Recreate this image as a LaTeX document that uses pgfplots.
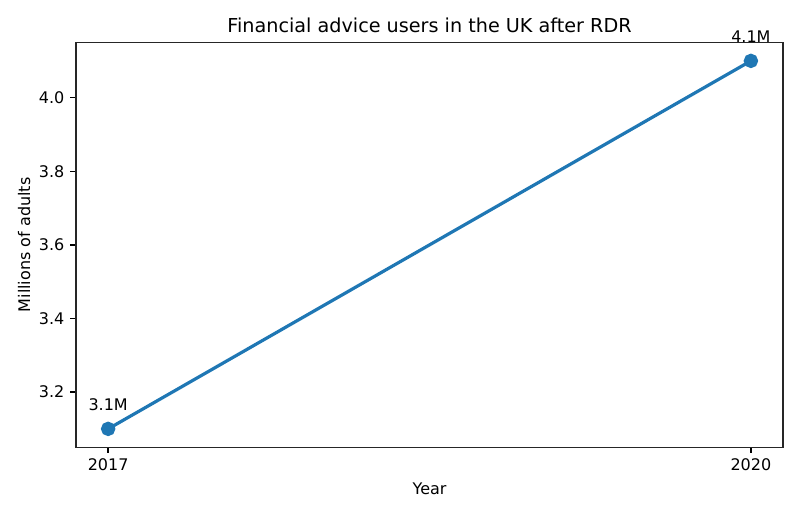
\documentclass[border=0pt]{standalone}
\usepackage{fontspec}
\setmainfont{DejaVu Sans}
\usepackage{pgfplots}
\pgfplotsset{compat=1.18}
\definecolor{mplblue}{RGB}{31,119,180}

\begin{document}
\begin{tikzpicture}
\path[use as bounding box] (0,0) rectangle (500pt,321.25pt);
\begin{axis}[
    at={(47.5pt,41.7pt)},
    anchor=south west,
    scale only axis,
    width=441.9pt,
    height=253pt,
    xmin=2016.85, xmax=2020.15,
    ymin=3.05, ymax=4.15,
    xtick={2017,2020},
    xticklabels={2017,2020},
    ytick={3.2,3.4,3.6,3.8,4.0},
    yticklabel style={/pgf/number format/fixed, /pgf/number format/fixed zerofill, /pgf/number format/precision=1},
    /pgf/number format/assume math mode=true,
    tick label style={font=\fontsize{10}{12}\selectfont, inner sep=0pt},
    xticklabel style={anchor=base, yshift=-11.3pt},
    yticklabel style={anchor=east, xshift=-3.6pt},
    xtick pos=bottom, ytick pos=left,
    tick align=outside,
    major tick length=3.5pt,
    every tick/.style={black, line width=0.8pt},
    axis line style={line width=0.8pt, black!85},
    title={Financial advice users in the UK after RDR},
    title style={at={(axis description cs:0.5,1)}, anchor=base, font=\fontsize{12}{14.4}\selectfont, inner sep=0pt},
    xlabel={Year},
    xlabel style={at={(axis description cs:0.5,-0.1155)}, anchor=base, font=\fontsize{10}{12}\selectfont, inner sep=0pt},
    ylabel={Millions of adults},
    ylabel style={at={(axis description cs:-0.065,0.5)}, anchor=base, font=\fontsize{10}{12}\selectfont, inner sep=0pt},
    clip=false,
    nodes near coords={\pgfmathprintnumber[fixed,fixed zerofill,precision=1]{\pgfplotspointmeta}M},
    nodes near coords style={anchor=base, yshift=11.4pt, inner sep=0pt, black, font=\fontsize{10}{12}\selectfont},
    point meta=y,
]
\addplot[color=mplblue, line width=2pt, mark=*, mark size=3.5pt, mark options={fill=mplblue, draw=none}]
    coordinates {(2017,3.1)(2020,4.1)};
\end{axis}
\end{tikzpicture}
\end{document}
